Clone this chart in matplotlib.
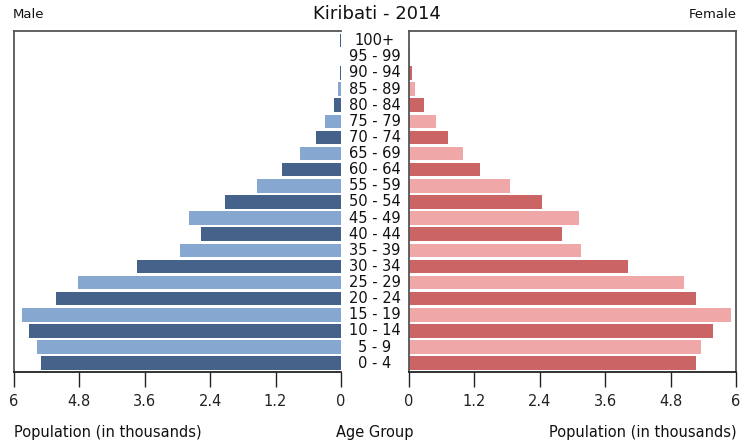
import matplotlib
matplotlib.use('Agg')
import matplotlib.pyplot as plt
import numpy as np

# age groups, bottom to top
age_groups = ['0 - 4', '5 - 9', '10 - 14', '15 - 19', '20 - 24', '25 - 29', '30 - 34',
              '35 - 39', '40 - 44', '45 - 49', '50 - 54', '55 - 59', '60 - 64', '65 - 69',
              '70 - 74', '75 - 79', '80 - 84', '85 - 89', '90 - 94', '95 - 99', '100+']

# population in thousands
male = [5.50, 5.57, 5.72, 5.86, 5.23, 4.83, 3.74, 2.95, 2.57, 2.79, 2.12,
        1.54, 1.08, 0.76, 0.45, 0.29, 0.13, 0.05, 0.02, 0.005, 0.02]
female = [5.27, 5.36, 5.58, 5.90, 5.27, 5.04, 4.01, 3.16, 2.80, 3.12, 2.44,
          1.86, 1.30, 0.99, 0.72, 0.50, 0.28, 0.11, 0.05, 0.02, 0.0]

tick_vals = [0, 1.2, 2.4, 3.6, 4.8, 6]
tick_labels = ['0', '1.2', '2.4', '3.6', '4.8', '6']

male_colors = ['#45628a', '#86a7cf']
female_colors = ['#cb6465', '#f0a7a7']

fig = plt.figure(figsize=(7.54, 4.42), dpi=100)
axL = fig.add_axes([14 / 754, 1 - 372 / 442, 327 / 754, 341 / 442])
axR = fig.add_axes([409 / 754, 1 - 372 / 442, 327 / 754, 341 / 442])

y = np.arange(len(age_groups))
mc = [male_colors[i % 2] for i in range(len(y))]
fc = [female_colors[i % 2] for i in range(len(y))]

axL.barh(y, male, height=0.84, color=mc)
axR.barh(y, female, height=0.84, color=fc)

spine_col = '#555555'
for ax in (axL, axR):
    ax.set_xlim(0, 6)
    ax.set_ylim(-0.55, 20.6)
    ax.set_yticks([])
    ax.set_xticks(tick_vals)
    ax.set_xticklabels(tick_labels, fontsize=10.5, color='#222222')
    ax.tick_params(axis='x', length=11, width=1, color='#222222', pad=5)
    for s in ax.spines.values():
        s.set_color(spine_col)
        s.set_linewidth(1.3)
axL.invert_xaxis()
axL.spines['right'].set_visible(False)
axR.spines['bottom'].set_color('#222222')
axL.spines['bottom'].set_color('#222222')

for i, lab in enumerate(age_groups):
    fig.text(375 / 754, axL.transData.transform((0, i))[1] / 442, lab,
             ha='center', va='center', fontsize=10.5, color='#111111')

fig.text(0.5, 1 - 14 / 442, 'Kiribati - 2014', ha='center', va='center', fontsize=13, color='#111111')
fig.text(13 / 754, 1 - 15 / 442, 'Male', ha='left', va='center', fontsize=9.5, color='#111111')
fig.text(737 / 754, 1 - 15 / 442, 'Female', ha='right', va='center', fontsize=9.5, color='#111111')
fig.text(14 / 754, 1 - 432 / 442, 'Population (in thousands)', ha='left', va='center', fontsize=10.5, color='#111111')
fig.text(375 / 754, 1 - 432 / 442, 'Age Group', ha='center', va='center', fontsize=10.5, color='#111111')
fig.text(737 / 754, 1 - 432 / 442, 'Population (in thousands)', ha='right', va='center', fontsize=10.5, color='#111111')

fig.savefig('out.png', dpi=100)
